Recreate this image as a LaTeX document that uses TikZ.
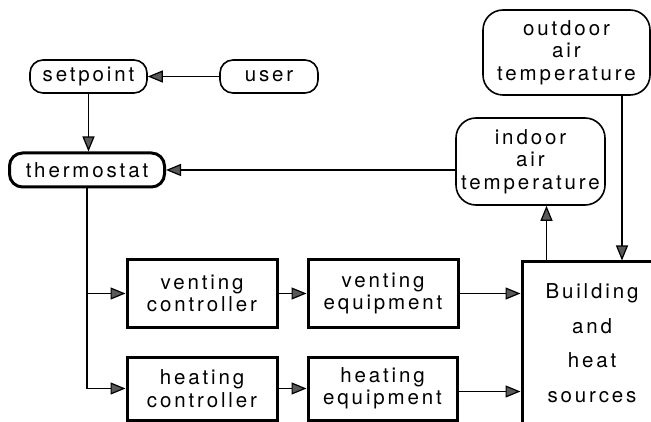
\documentclass[tikz,border=0pt]{standalone}
\usepackage{fontspec}
\setmainfont{TeX Gyre Heros}[LetterSpace=14]
\usetikzlibrary{arrows.meta}

\begin{document}
\begin{tikzpicture}[x=1pt, y=-1pt,
        pill/.style={draw, line width=1.6pt, rounded corners=13pt, inner sep=0pt, align=center},
        cloud/.style={draw, line width=1.6pt, rounded corners=20pt, inner sep=0pt, align=center},
        block/.style={draw, line width=3pt, inner sep=0pt, align=center},
        every node/.style={font=\fontsize{20.5pt}{22.5pt}\selectfont},
        >={Triangle[length=15pt,width=12pt,fill=gray!70!black,line width=1.2pt]},
        line/.style={line width=1.4pt}
    ]
        \useasboundingbox (0,0) rectangle (651,422);
        % upper part: setpoint, user, thermostat
        \node[pill, minimum width=117, minimum height=33] (setpoint) at (88.5,76.5) {setpoint};
        \node[pill, minimum width=98, minimum height=33] (user) at (269,76.5) {user};
        \node[pill, line width=3pt, minimum width=155, minimum height=34] (thermo) at (87,170) {thermostat};
        % temperatures on the right
        \node[cloud, minimum width=167, minimum height=85] (outdoor) at (566.5,52.5) {outdoor\\air\\temperature};
        \node[cloud, minimum width=149, minimum height=87] (indoor) at (530.5,161.5) {indoor\\air\\temperature};
        % controllers and equipment
        \node[block, minimum width=150, minimum height=67] (ventctrl) at (202,293.5) {venting\\controller};
        \node[block, minimum width=150, minimum height=67] (venteq) at (383,293.5) {venting\\equipment};
        \node[block, minimum width=150, minimum height=63] (heatctrl) at (202,388.5) {heating\\controller};
        \node[block, minimum width=149, minimum height=63] (heateq) at (382.5,388.5) {heating\\equipment};
        \node[block, minimum width=140, minimum height=170,
            label={[name=bldgtext, align=center, yshift=4pt]center:{Building\\[12pt]and\\[12pt]heat\\[12pt]sources}}] (bldg) at (592,347) {};
        % connectors
        \draw[line, ->] (user) -- (setpoint);
        \draw[line, ->] (setpoint.south) -- (setpoint.south |- thermo.north);
        \draw[line, ->] (thermo.east -| indoor.west) -- (thermo.east);
        \draw[line, ->] (thermo.south) |- (ventctrl.west);
        \draw[line, ->] (thermo.south) |- (heatctrl.west);
        \draw[line, ->] (ventctrl) -- (venteq);
        \draw[line, ->] (heatctrl) -- (heateq);
        \draw[line, ->] (venteq.east) -- (venteq.east -| bldg.west);
        \draw[line, ->] ([yshift=-3pt]heateq.east) -- ([yshift=-3pt]heateq.east -| bldg.west);
        \draw[line, ->] ([xshift=26pt]bldg.north west) -- ([xshift=26pt]bldg.north west |- indoor.south);
        \draw[line, ->] ([xshift=55.5pt]outdoor.south) -- ([xshift=55.5pt]outdoor.south |- bldg.north);
    \end{tikzpicture}
\end{document}
